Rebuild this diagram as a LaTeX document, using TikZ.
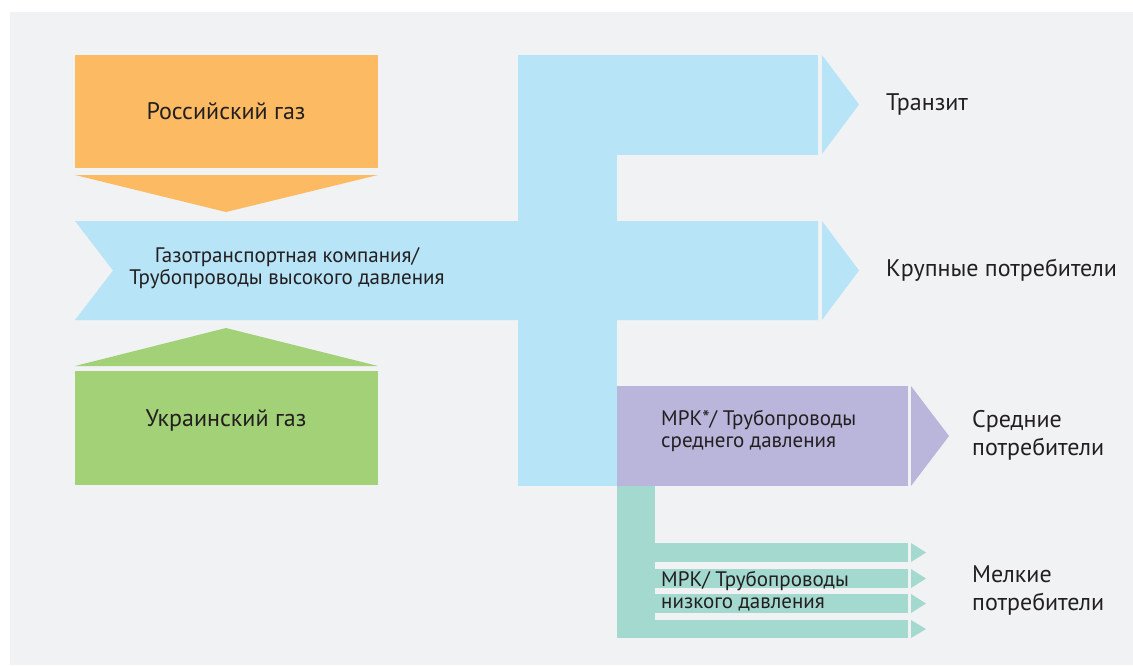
\documentclass[tikz,border=0pt]{standalone}
\usepackage{fontspec}
\setmainfont{PT Sans}
\usetikzlibrary{positioning}

\definecolor{bgGray}{HTML}{F1F2F4}
\definecolor{gasOrange}{HTML}{FCBB63}
\definecolor{pipeBlue}{HTML}{B8E4F7}
\definecolor{gasGreen}{HTML}{A3D177}
\definecolor{midViolet}{HTML}{B9B5DB}
\definecolor{lowTeal}{HTML}{A3D9CF}
\definecolor{inkDark}{HTML}{231F20}

\begin{document}
\begin{tikzpicture}[x=1pt, y=-1pt,
    lbl/.style={text=inkDark, font=\fontsize{24}{28}\selectfont, inner sep=0pt},
    sublbl/.style={text=inkDark, font=\fontsize{21}{21.5}\selectfont, inner sep=0pt}]
    \useasboundingbox (0, 0) rectangle (1133, 665);
    \fill[bgGray] (10, 12) rectangle (1133, 665);

    % Sources
    \fill[gasOrange] (75, 55) rectangle (378, 168);
    \fill[gasOrange] (75, 175) -- (378, 175) -- (226, 212) -- cycle;
    \fill[gasGreen] (75, 371) rectangle (378, 485);
    \fill[gasGreen] (75, 366) -- (378, 366) -- (226, 328) -- cycle;

    % High pressure network
    \fill[pipeBlue] (75, 221) -- (818, 221) -- (818, 320) -- (75, 320) -- (113, 270.5) -- cycle;
    \fill[pipeBlue] (518, 55) rectangle (818, 155);
    \fill[pipeBlue] (518, 55) rectangle (617, 486);
    \fill[pipeBlue] (822, 55) -- (859, 104.5) -- (822, 154) -- cycle;
    \fill[pipeBlue] (822, 221) -- (859, 270.5) -- (822, 320) -- cycle;

    % Medium pressure
    \fill[midViolet] (617, 386) rectangle (908, 486);
    \fill[midViolet] (911, 386) -- (949, 436) -- (911, 486) -- cycle;

    % Low pressure
    \fill[lowTeal] (617, 486) rectangle (655, 638);
    \foreach \ya/\yb in {543/562, 569/588, 594/613, 620/638} {
        \fill[lowTeal] (655, \ya) rectangle (908, \yb);
        \fill[lowTeal] (911, \ya) -- (926, {(\ya+\yb)/2}) -- (911, \yb) -- cycle;
    }

    \node[lbl] (rusGas) at (226, 111) {Российский газ};
    \node[lbl] (ukrGas) at (226, 420) {Украинский газ};
    \node[sublbl, align=center] (gtsNet) at (287, 268) {Газотранспортная компания/\\Трубопроводы высокого давления};
    \node[sublbl, align=left, anchor=west] (midNet) at (661, 431) {МРК*/ Трубопроводы\\среднего давления};
    \node[sublbl, align=left, anchor=west] (lowNet) at (661, 591) {МРК/ Трубопроводы\\низкого давления};

    % Consumers
    \node[lbl, anchor=west] (transit) at (886, 104) {Транзит};
    \node[lbl, anchor=west] (bigUse) at (886, 270) {Крупные потребители};
    \node[lbl, align=left, anchor=west] (midUse) at (972, 435) {Средние\\потребители};
    \node[lbl, align=left, anchor=west] (smallUse) at (972, 590) {Мелкие\\потребители};
\end{tikzpicture}
\end{document}
